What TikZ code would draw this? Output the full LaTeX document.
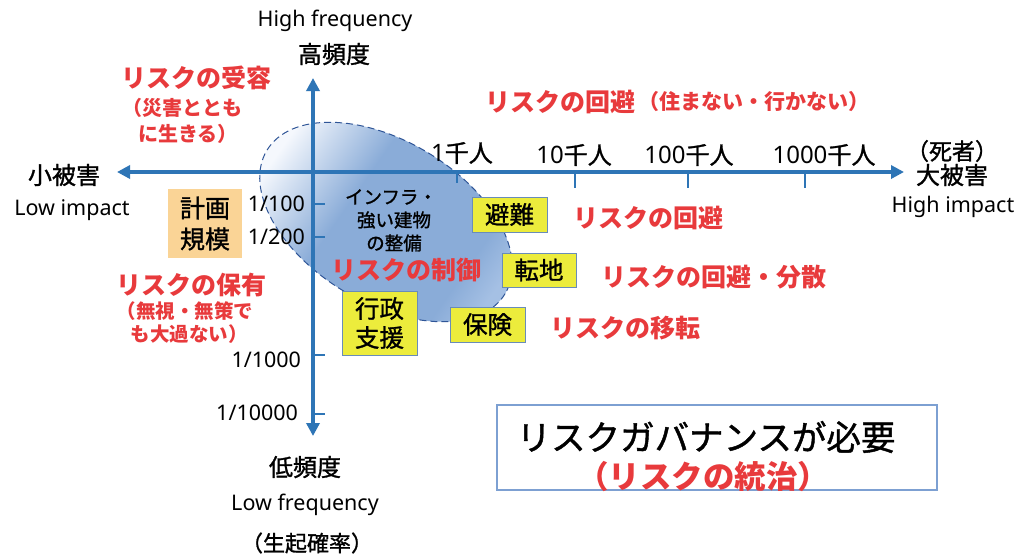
\documentclass[tikz,border=0pt]{standalone}
\usepackage{fontspec}
\setmainfont{Noto Sans CJK JP}
\newfontfamily\lat{Noto Sans}
\newfontfamily\jpm[FakeBold=1.2]{Noto Sans CJK JP}
\usetikzlibrary{arrows.meta}
\definecolor{axisblue}{RGB}{46,117,182}
\definecolor{ellblue}{RGB}{138,172,216}
\definecolor{elllight}{RGB}{245,248,253}
\definecolor{ellend}{RGB}{165,192,228}
\definecolor{ellborder}{RGB}{47,85,151}
\definecolor{boxyellow}{RGB}{236,236,60}
\definecolor{boxborder}{RGB}{105,140,185}
\definecolor{planorange}{RGB}{250,212,150}
\definecolor{riskred}{RGB}{232,58,60}
\definecolor{govborder}{RGB}{125,160,210}
\pgfdeclarehorizontalshading{ellshade}{100bp}{color(0bp)=(elllight); color(25bp)=(elllight); color(42bp)=(ellblue); color(68bp)=(ellblue); color(75bp)=(ellend); color(100bp)=(ellend)}
\tikzset{
  axis/.style={draw=axisblue, line width=4pt, {Triangle[length=13pt,width=13pt]}-{Triangle[length=13pt,width=13pt]}},
  tick/.style={draw=axisblue, line width=2.5pt},
  latin/.style={font=\lat\fontsize{21.5}{25}\selectfont, text=black},
  jpbig/.style={font=\jpm\fontsize{24}{28}\selectfont, text=black},
  jpmid/.style={font=\jpm\fontsize{18.5}{22}\selectfont, text=black},
  redbig/.style={font=\bfseries\fontsize{25}{28}\selectfont, text=riskred},
  redsmall/.style={font=\bfseries\fontsize{20}{23}\selectfont, text=riskred},
  ybox/.style={fill=boxyellow, draw=boxborder, line width=1pt, font=\jpm\fontsize{24.5}{29}\selectfont, align=center},
}
\begin{document}
\begin{tikzpicture}[x=1pt,y=-1pt, every node/.style={inner sep=0pt, outer sep=0pt}]
\useasboundingbox[fill=white] (0,0) rectangle (1019,558);

% ellipse region
\path[draw=ellborder, dash pattern=on 7pt off 4pt, line width=1pt, shading=ellshade, shading angle=-35, rotate around={-31:(386,222)}] (386,222) ellipse [x radius=139, y radius=81];

% axes
\coordinate (xl) at (117,172);
\coordinate (xr) at (904,172);
\coordinate (yt) at (313,78);
\coordinate (yb) at (313,436);
\draw[axis] (xl) -- (xr);
\draw[axis] (yt) -- (yb);

% ticks
\coordinate (tx1) at (457,172); \coordinate (tx1e) at (457,183);
\coordinate (tx2) at (575,172); \coordinate (tx2e) at (575,188);
\coordinate (tx3) at (688,172); \coordinate (tx3e) at (688,188);
\coordinate (tx4) at (805,172); \coordinate (tx4e) at (805,188);
\draw[tick] (tx1) -- (tx1e);
\draw[tick] (tx2) -- (tx2e);
\draw[tick] (tx3) -- (tx3e);
\draw[tick] (tx4) -- (tx4e);
\coordinate (ty1) at (313,204); \coordinate (ty1e) at (325,204);
\coordinate (ty2) at (313,237); \coordinate (ty2e) at (325,237);
\coordinate (ty3) at (313,355); \coordinate (ty3e) at (325,355);
\coordinate (ty4) at (313,414); \coordinate (ty4e) at (325,414);
\draw[tick] (ty1) -- (ty1e);
\draw[tick] (ty2) -- (ty2e);
\draw[tick] (ty3) -- (ty3e);
\draw[tick] (ty4) -- (ty4e);

% axis labels
\node[latin] (hf) at (335,21) {High frequency};
\node[jpbig] (hfj) at (334,54) {高頻度};
\node[jpbig] (lfj) at (305,467) {低頻度};
\node[latin] (lf) at (305,505) {Low frequency};
\node[jpbig, font=\jpm\fontsize{22}{26}\selectfont] (prob) at (307,543) {（生起確率）};
\node[jpbig] (small) at (64,175) {小被害};
\node[latin] (li) at (72,210) {Low impact};
\node[jpbig, font=\jpm\fontsize{23}{26}\selectfont] (dead) at (952,151) {（死者）};
\node[jpbig] (large) at (952,175) {大被害};
\node[latin] (hi) at (953,207) {High impact};

% x tick labels
\node[jpbig] (k1) at (462,153) {{\lat 1}千人};
\node[jpbig] (k10) at (574,155) {{\lat 10}千人};
\node[jpbig] (k100) at (689,155) {{\lat 100}千人};
\node[jpbig] (k1000) at (824,155) {{\lat 1000}千人};

% y tick labels
\node[latin, anchor=east] (p100) at (305,204) {1/100};
\node[latin, anchor=east] (p200) at (305,237) {1/200};
\node[latin, anchor=east] (p1000) at (301,360) {1/1000};
\node[latin, anchor=east] (p10000) at (298,413) {1/10000};

% planning scale box
\node[fill=planorange, minimum width=74pt, minimum height=69pt, font=\jpm\fontsize{25}{31}\selectfont, align=center] (plan) at (205,223.5) {計画\\規模};

% red risk labels
\node[redbig] (accept) at (196,78) {リスクの受容};
\node[redsmall] (accept2) at (182,108) {（災害ととも};
\node[redsmall] (accept3) at (188,134) {に生きる）};
\node[redbig, anchor=west] (avoid0) at (485,102) {リスクの回避};
\node[redsmall, font=\bfseries\fontsize{21}{24}\selectfont, anchor=west] (avoid0b) at (638,102) {（住まない・行かない）};
\node[redbig] (hold) at (191,285) {リスクの保有};
\node[redsmall, font=\bfseries\fontsize{19.5}{22}\selectfont] (hold2) at (185,311) {（無視・無策で};
\node[redsmall, font=\bfseries\fontsize{19.5}{22}\selectfont] (hold3) at (189,334) {も大過ない）};
\node[redbig] (control) at (406,270) {リスクの制御};
\node[redbig] (avoid1) at (648,218) {リスクの回避};
\node[redbig] (avoid2) at (714,277) {リスクの回避・分散};
\node[redbig] (transfer) at (625,328) {リスクの移転};

% infrastructure text
\node[jpmid] (infra1) at (391,197) {インフラ・};
\node[jpmid] (infra2) at (394,220) {強い建物};
\node[jpmid] (infra3) at (394,243) {の整備};

% yellow boxes
\node[ybox, minimum width=75pt, minimum height=35pt] (evac) at (509.5,214.5) {避難};
\node[ybox, minimum width=74pt, minimum height=34pt] (move) at (539,270) {転地};
\node[ybox, minimum width=75pt, minimum height=64pt] (admin) at (379.5,323) {行政\\支援};
\node[ybox, minimum width=75pt, minimum height=35pt] (insur) at (487.5,324.5) {保険};

% governance box
\node[draw=govborder, line width=1.2pt, minimum width=440pt, minimum height=85pt] (gov) at (717,447.5) {};
\node[font=\jpm\fontsize{34.5}{38}\selectfont, text=black] (gov1) at (706,437) {リスクガバナンスが必要};
\node[font=\bfseries\fontsize{31.5}{35}\selectfont, text=riskred] (gov2) at (703,477) {（リスクの統治）};
\end{tikzpicture}
\end{document}
